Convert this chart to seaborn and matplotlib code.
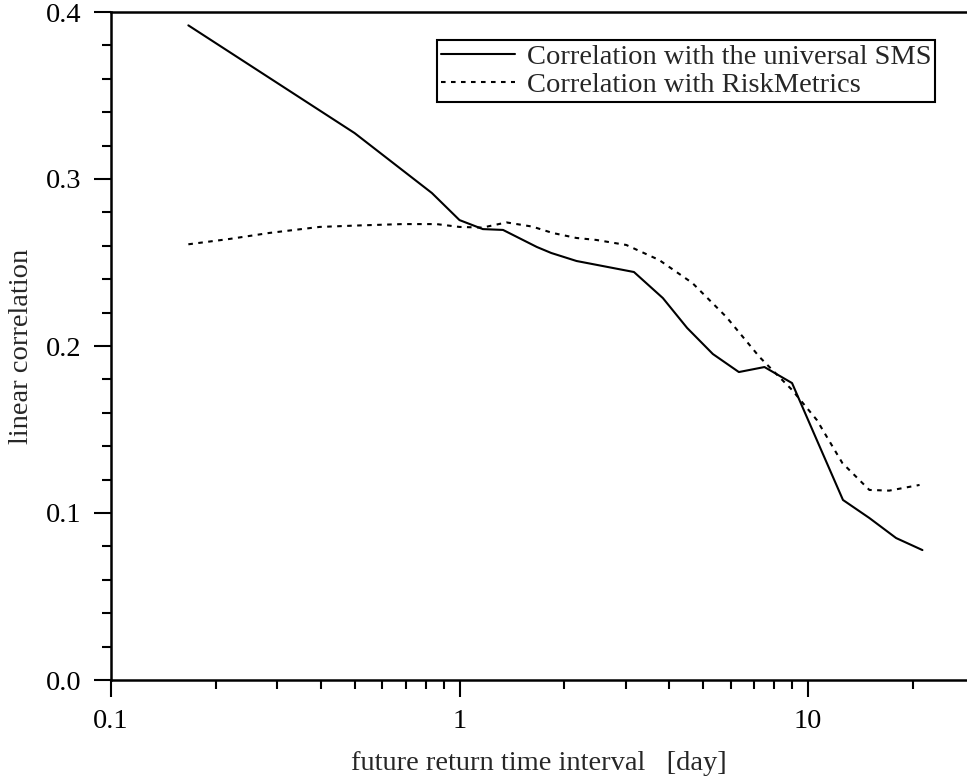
import numpy as np
import pandas as pd
import matplotlib
matplotlib.use("Agg")
import matplotlib.pyplot as plt
import seaborn as sns

# --- data ---
sms_x = [0.1667, 0.5, 0.8333, 1.0, 1.1667, 1.3333, 1.6667, 1.8333, 2.1667,
         3.1667, 3.8333, 4.5, 5.3333, 6.3333, 7.5, 9.0, 10.6, 12.6, 15.0, 17.9, 21.3]
sms_y = [0.392, 0.3275, 0.2916, 0.2754, 0.270, 0.2695, 0.2593, 0.2557, 0.2509,
         0.2443, 0.2287, 0.2108, 0.1952, 0.1844, 0.1874, 0.1778, 0.1437, 0.1078,
         0.097, 0.085, 0.0778]

rm_x = [0.1667, 0.2188, 0.2848, 0.3967, 0.517, 0.686, 0.859, 1.0, 1.164, 1.364,
        1.618, 1.849, 2.163, 2.47, 3.01, 3.74, 4.66, 5.83, 7.26, 9.0, 10.6,
        12.55, 15.0, 17.1, 20.9]
rm_y = [0.2609, 0.2641, 0.2677, 0.2713, 0.2722, 0.273, 0.273, 0.2713, 0.2709,
        0.274, 0.2715, 0.2677, 0.2647, 0.2635, 0.2605, 0.2515, 0.2377, 0.2174,
        0.1934, 0.1737, 0.1557, 0.1299, 0.1138, 0.1134, 0.1168]

series_names = ["Correlation with the universal SMS", "Correlation with RiskMetrics"]
xtick_vals = [0.1, 1, 10]
xtick_labels = ["0.1", "1", "10"]
ytick_vals = [0.0, 0.1, 0.2, 0.3, 0.4]
ytick_labels = ["0.0", "0.1", "0.2", "0.3", "0.4"]

df = pd.concat([
    pd.DataFrame({"x": sms_x, "y": sms_y, "series": series_names[0]}),
    pd.DataFrame({"x": rm_x, "y": rm_y, "series": series_names[1]}),
], ignore_index=True)

sns.set_style("ticks")
plt.rcParams["font.family"] = ["Liberation Serif", "DejaVu Serif"]

FS = 20.5

fig = plt.figure(figsize=(9.67, 7.84), dpi=100)
ax = fig.add_axes([111/967, 1 - 680/784, 1 - 111/967, (680 - 12)/784])

sns.lineplot(data=df, x="x", y="y", style="series", ax=ax, color="black",
             linewidth=1.5, sort=False, estimator=None,
             dashes={series_names[0]: "", series_names[1]: (2.2, 2.6)},
             legend=True)

ax.set_xscale("log")
ax.set_xlim(0.1, 10 ** (1 + (967 - 808) / 348.5))
ax.set_ylim(0, 0.4)

ax.set_xticks(xtick_vals)
ax.set_xticklabels(xtick_labels)
ax.xaxis.set_minor_locator(matplotlib.ticker.LogLocator(base=10, subs=np.arange(2, 10)))
ax.xaxis.set_minor_formatter(matplotlib.ticker.NullFormatter())
ax.set_yticks(ytick_vals)
ax.set_yticklabels(ytick_labels)
ax.yaxis.set_minor_locator(matplotlib.ticker.MultipleLocator(0.02))

ax.tick_params(axis="both", which="major", direction="out", length=12, width=1.5,
               labelsize=FS, color="black", labelcolor="black", pad=9)
ax.tick_params(axis="both", which="minor", direction="out", length=6.5, width=1.5,
               color="black")

for s in ["left", "bottom", "top"]:
    ax.spines[s].set_visible(True)
    ax.spines[s].set_linewidth(1.8)
    ax.spines[s].set_color("black")
ax.spines["right"].set_visible(False)

ax.set_xlabel("future return time interval   [day]", fontsize=FS, labelpad=12)
ax.set_ylabel("linear correlation", fontsize=FS, labelpad=9)

leg = ax.legend(loc="upper left", bbox_to_anchor=((437 - 111) / (967 - 111), 1 - (40 - 12) / 668),
                fontsize=FS, frameon=True, fancybox=False, shadow=False,
                handlelength=2.6, handletextpad=0.4, borderpad=0.15,
                labelspacing=0.05, borderaxespad=0)
leg.get_frame().set_edgecolor("black")
leg.get_frame().set_linewidth(1.5)
leg.get_frame().set_alpha(1)
for line in leg.get_lines():
    line.set_linewidth(1.5)

fig.savefig("out.png", dpi=100)
